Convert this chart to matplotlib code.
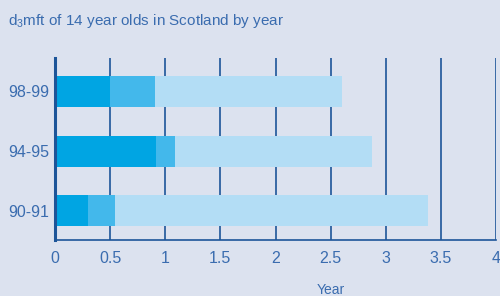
import numpy as np
import matplotlib
matplotlib.use("Agg")
import matplotlib.pyplot as plt

plt.rcParams['font.family'] = ['Liberation Sans', 'DejaVu Sans']

years = ["90-91", "94-95", "98-99"]
dark = [0.30, 0.92, 0.50]
medium = [0.24, 0.165, 0.41]
light = [2.84, 1.79, 1.69]

bg = "#dce2ef"
txt = "#3a6caf"
grid = "#1d5599"

fig = plt.figure(figsize=(5, 2.96), dpi=100, facecolor=bg)
ax = fig.add_axes([0.11, 0.189, 0.882, 0.615])
ax.set_facecolor(bg)

y = np.arange(len(years))
left = np.zeros(len(years))
for vals, col in [(dark, "#00a5e3"), (medium, "#43b8eb"), (light, "#b3ddf5")]:
    ax.barh(y, vals, left=left, height=0.52, color=col, zorder=3)
    left += np.array(vals)

ax.set_xlim(0, 4)
ax.set_ylim(-0.49, 2.56)
ax.set_xticks(np.arange(0, 4.01, 0.5))
ax.set_xticklabels(["0", "0.5", "1", "1.5", "2", "2.5", "3", "3.5", "4"])
ax.set_yticks(y)
ax.set_yticklabels(years)
ax.tick_params(length=0, labelsize=11.5, colors=txt)
ax.tick_params(axis='x', pad=8)
ax.tick_params(axis='y', pad=4)
ax.grid(axis='x', color=grid, linewidth=1.2, zorder=1)

for s in ["top", "right"]:
    ax.spines[s].set_visible(False)
ax.spines["left"].set_color(grid)
ax.spines["left"].set_linewidth(2.2)
ax.spines["bottom"].set_color(grid)
ax.spines["bottom"].set_linewidth(1.2)
ax.spines["left"].set_zorder(4)

ax.set_xlabel("Year", fontsize=10, color=txt, va='center')
ax.xaxis.set_label_coords(0.625, -0.275)

fig.text(0.016, 0.93, r"$\mathregular{d_3}$mft of 14 year olds in Scotland by year",
         fontsize=11, color=txt, ha='left', va='center')

fig.savefig("out.png", dpi=100, facecolor=bg)
